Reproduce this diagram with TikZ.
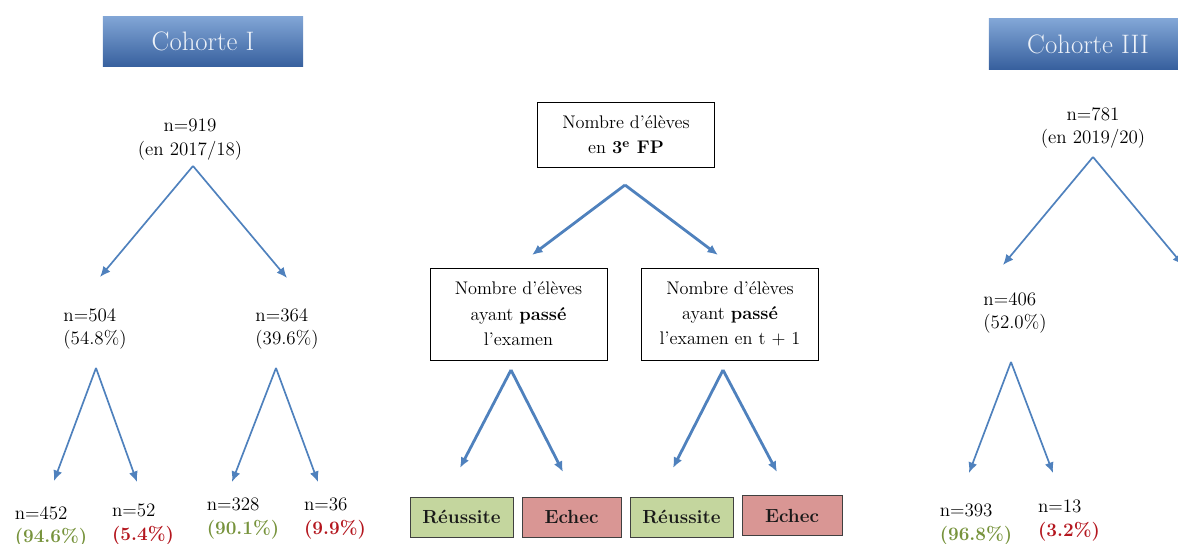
\documentclass[tikz,border=0pt]{standalone}
\usepackage{fontspec}
\usetikzlibrary{arrows.meta,positioning}

\definecolor{arrowblue}{RGB}{79,129,189}
\definecolor{hdrtop}{RGB}{130,166,214}
\definecolor{hdrbot}{RGB}{55,96,158}
\definecolor{hdrtext}{RGB}{236,241,248}
\definecolor{okgreen}{RGB}{119,147,60}
\definecolor{kored}{RGB}{180,22,30}
\definecolor{okfill}{RGB}{196,214,158}
\definecolor{kofill}{RGB}{217,150,148}

\newcommand{\okpct}[1]{\textcolor{okgreen}{\textbf{#1}}}
\newcommand{\kopct}[1]{\textcolor{kored}{\textbf{#1}}}

\begin{document}
\begin{tikzpicture}[x=0.025cm, y=-0.025cm,
  hdr/.style={minimum width=5cm, minimum height=1.27cm, inner sep=0pt,
    top color=hdrtop, bottom color=hdrbot, text=hdrtext,
    font=\fontsize{19}{22}\selectfont},
  cnt/.style={align=left, inner sep=1pt, font=\fontsize{13.5}{17}\selectfont},
  qbox/.style={draw, thin, align=center, inner sep=2pt,
    font=\fontsize{13}{18}\selectfont, minimum width=4.42cm},
  res/.style={draw=black!75, thin, font=\bfseries\fontsize{13.5}{15}\selectfont,
    text=black!90, minimum height=1cm, inner sep=0pt},
  arr/.style={-{Latex[length=7.5pt,width=6.5pt]}, arrowblue, line width=1.2pt},
  bigarr/.style={arr, line width=2pt}]

  \useasboundingbox (0,0) rectangle (1178,544);

  % Cohort headers
  \node[hdr] (hdrI) at (203,41.5) {Cohorte I};
  \node[hdr, minimum width=4.95cm, minimum height=1.25cm] (hdrIII) at (1088,44) {Cohorte III};

  % Cohorte I
  \node[cnt, align=center] (n919) at (190,140) {n=919\\(en 2017/18)};
  \node[cnt] (n504) at (95,329) {n=504\\(54.8\%)};
  \node[cnt] (n364) at (287,329) {n=364\\(39.6\%)};
  \node[cnt] (n452) at (51,527) {n=452\\\okpct{(94.6\%)}};
  \node[cnt] (n52)  at (143,525) {n=52\\\kopct{(5.4\%)}};
  \node[cnt] (n328) at (243,519) {n=328\\\okpct{(90.1\%)}};
  \node[cnt] (n36)  at (335,519) {n=36\\\kopct{(9.9\%)}};

  % Legend tree
  \node[qbox, minimum height=1.62cm] (total) at (626,134.5)
    {Nombre d’élèves\\en \textbf{3\textsuperscript{e} FP}};
  \node[qbox, minimum height=2.3cm] (pass) at (518.5,314)
    {Nombre d’élèves\\ayant \textbf{passé}\\l’examen};
  \node[qbox, minimum height=2.3cm] (passlate) at (730,314)
    {Nombre d’élèves\\ayant \textbf{passé}\\l’examen en t + 1};
  \node[res, fill=okfill, minimum width=2.575cm] (ok1) at (461.5,517) {Réussite};
  \node[res, fill=kofill, minimum width=2.475cm] (ko1) at (571.5,517) {Echec};
  \node[res, fill=okfill, minimum width=2.575cm] (ok2) at (681.5,517) {Réussite};
  \node[res, fill=kofill, minimum width=2.5cm]   (ko2) at (792,515.5) {Echec};

  % Cohorte III
  \node[cnt, align=center] (n781) at (1093,128) {n=781\\(en 2019/20)};
  \node[cnt] (n406) at (1015,313) {n=406\\(52.0\%)};
  \node[cnt] (n393) at (976,525) {n=393\\\okpct{(96.8\%)}};
  \node[cnt] (n13)  at (1069,521) {n=13\\\kopct{(3.2\%)}};

  % Arrow starts and ends
  \coordinate (a919) at (193,166);
  \coordinate (a504) at (96,368);
  \coordinate (a364) at (276,368);
  \coordinate (atotal) at (625,185);
  \coordinate (apass) at (511,370);
  \coordinate (alate) at (723,370);
  \coordinate (a781) at (1093,157);
  \coordinate (a406) at (1011,362);
  \coordinate (t504) at (100,277);
  \coordinate (t364) at (287,278);
  \coordinate (t452) at (54,481);
  \coordinate (t52) at (137,482);
  \coordinate (t328) at (232,482);
  \coordinate (t36) at (318,482);
  \coordinate (tpass) at (532,255);
  \coordinate (tlate) at (718,255);
  \coordinate (tok1) at (460,468);
  \coordinate (tko1) at (563,472);
  \coordinate (tok2) at (673,468);
  \coordinate (tko2) at (777,472);
  \coordinate (t406) at (1003,265);
  \coordinate (tright) at (1183,265);
  \coordinate (t393) at (969,473);
  \coordinate (t13) at (1053,473);

  % Arrows
  \foreach \a/\b in {a919/t504,a919/t364,a504/t452,a504/t52,a364/t328,a364/t36,
                     a781/t406,a781/tright,a406/t393,a406/t13}
    \draw[arr] (\a) -- (\b);
  \foreach \a/\b in {atotal/tpass,atotal/tlate,apass/tok1,apass/tko1,alate/tok2,alate/tko2}
    \draw[bigarr] (\a) -- (\b);

\end{tikzpicture}
\end{document}
